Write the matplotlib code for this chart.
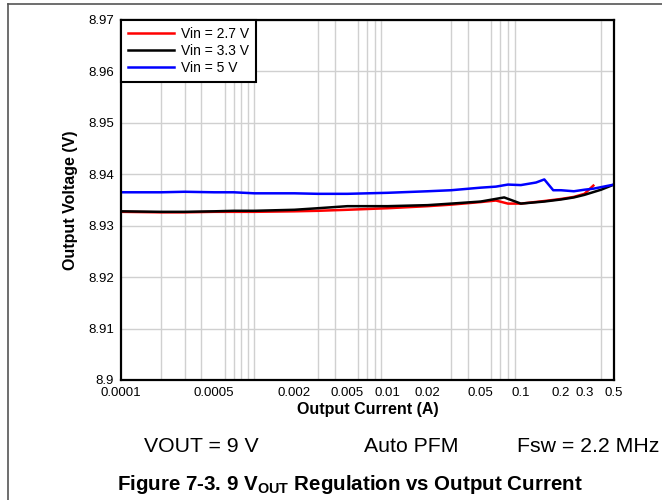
import matplotlib
matplotlib.use("Agg")
import matplotlib.pyplot as plt
from matplotlib.ticker import FixedLocator, FixedFormatter, LogLocator, NullFormatter
from matplotlib.lines import Line2D

plt.rcParams['font.family'] = ['Liberation Sans', 'DejaVu Sans']
plt.rcParams['mathtext.fontset'] = 'custom'
plt.rcParams['mathtext.rm'] = 'Liberation Sans'
plt.rcParams['mathtext.bf'] = 'Liberation Sans:bold'

# Data
i_27 = [0.0001, 0.0002, 0.0003, 0.0005, 0.0007, 0.001, 0.002, 0.003, 0.005, 0.01, 0.02,
        0.03, 0.05, 0.065, 0.08, 0.1, 0.15, 0.2, 0.25, 0.3, 0.35]
v_27 = [8.9327, 8.9326, 8.9326, 8.9327, 8.9327, 8.9327, 8.9328, 8.9329, 8.9331, 8.9334, 8.9338,
        8.9341, 8.9346, 8.9349, 8.9343, 8.9343, 8.9348, 8.9352, 8.9356, 8.9362, 8.9378]
i_33 = [0.0001, 0.0002, 0.0003, 0.0005, 0.0007, 0.001, 0.002, 0.003, 0.005, 0.01, 0.02,
        0.03, 0.05, 0.075, 0.1, 0.15, 0.2, 0.25, 0.3, 0.4, 0.5]
v_33 = [8.9328, 8.9327, 8.9327, 8.9328, 8.9329, 8.9329, 8.9331, 8.9334, 8.9338, 8.9338, 8.9340,
        8.9343, 8.9347, 8.9355, 8.9343, 8.9347, 8.9351, 8.9355, 8.9360, 8.9370, 8.9380]
i_50 = [0.0001, 0.0002, 0.0003, 0.0005, 0.0007, 0.001, 0.002, 0.003, 0.005, 0.01, 0.02,
        0.03, 0.05, 0.065, 0.08, 0.1, 0.13, 0.15, 0.175, 0.2, 0.25, 0.3, 0.35, 0.4, 0.5]
v_50 = [8.9365, 8.9365, 8.9366, 8.9365, 8.9365, 8.9363, 8.9363, 8.9362, 8.9362, 8.9364, 8.9367,
        8.9369, 8.9374, 8.9376, 8.9380, 8.9379, 8.9384, 8.9390, 8.9369, 8.9369, 8.9367, 8.9370, 8.9372, 8.9375, 8.9380]

series_labels = ["Vin = 2.7 V", "Vin = 3.3 V", "Vin = 5 V"]
series_colors = ["#ff0000", "#000000", "#0000ff"]

xtick_vals = [0.0001, 0.0005, 0.002, 0.005, 0.01, 0.02, 0.05, 0.1, 0.2, 0.3, 0.5]
xtick_labels = ["0.0001", "0.0005", "0.002", "0.005", "0.01", "0.02", "0.05", "0.1", "0.2", "0.3", "0.5"]
ytick_vals = [8.9, 8.91, 8.92, 8.93, 8.94, 8.95, 8.96, 8.97]
ytick_labels = ["8.9", "8.91", "8.92", "8.93", "8.94", "8.95", "8.96", "8.97"]

fig = plt.figure(figsize=(6.62, 5.0), dpi=100)
ax = fig.add_axes([121/662, 1-380/500, (614-121)/662, (380-20)/500])

for xs, ys, lab, col in zip([i_27, i_33, i_50], [v_27, v_33, v_50], series_labels, series_colors):
    ax.plot(xs, ys, color=col, lw=1.8, label=lab, solid_joinstyle='round')

ax.set_xscale('log')
ax.set_xlim(0.0001, 0.5)
ax.set_ylim(8.9, 8.97)

ax.xaxis.set_major_locator(FixedLocator(xtick_vals))
ax.xaxis.set_major_formatter(FixedFormatter(xtick_labels))
ax.xaxis.set_minor_locator(LogLocator(base=10, subs=range(1, 10), numticks=20))
ax.xaxis.set_minor_formatter(NullFormatter())
ax.set_yticks(ytick_vals)
ax.set_yticklabels(ytick_labels)

ax.tick_params(which='both', length=0, labelsize=9.5)
ax.tick_params(axis='x', pad=5)
ax.tick_params(axis='y', pad=5)
ax.grid(False)
ax.grid(True, axis='x', which='minor', color='#d0d0d0', lw=1)
ax.grid(True, axis='y', which='major', color='#d0d0d0', lw=1)
ax.set_axisbelow(True)
for s in ax.spines.values():
    s.set_linewidth(1.6)
    s.set_color('black')

ax.set_xlabel("Output Current (A)", fontsize=11.5, fontweight='bold', labelpad=2)
ax.set_ylabel("Output Voltage (V)", fontsize=11.5, fontweight='bold', labelpad=7)

leg = ax.legend(loc='upper left', fontsize=10, frameon=True, fancybox=False,
                edgecolor='black', framealpha=1, borderaxespad=0, handlelength=3.3,
                labelspacing=0.22, borderpad=0.5, handletextpad=0.5)
leg.get_frame().set_linewidth(1.5)

fig.text(201/662, 1-447/500, "VOUT = 9 V", fontsize=15.3, ha='center', va='center')
fig.text(411/662, 1-447/500, "Auto PFM", fontsize=15.3, ha='center', va='center')
fig.text(588/662, 1-447/500, "Fsw = 2.2 MHz", fontsize=15.3, ha='center', va='center')
fig.text(350/662, 1-485/500, r"Figure 7-3. 9 $\mathbf{V_{OUT}}$ Regulation vs Output Current",
         fontsize=14.8, fontweight='bold', ha='center', va='center')

# page border lines
fig.add_artist(Line2D([8/662, 8/662], [0, 1-4/500], color='#555555', lw=1.2, transform=fig.transFigure))
fig.add_artist(Line2D([8/662, 1], [1-4/500, 1-4/500], color='#555555', lw=1.2, transform=fig.transFigure))

fig.savefig("out.png", dpi=100)
